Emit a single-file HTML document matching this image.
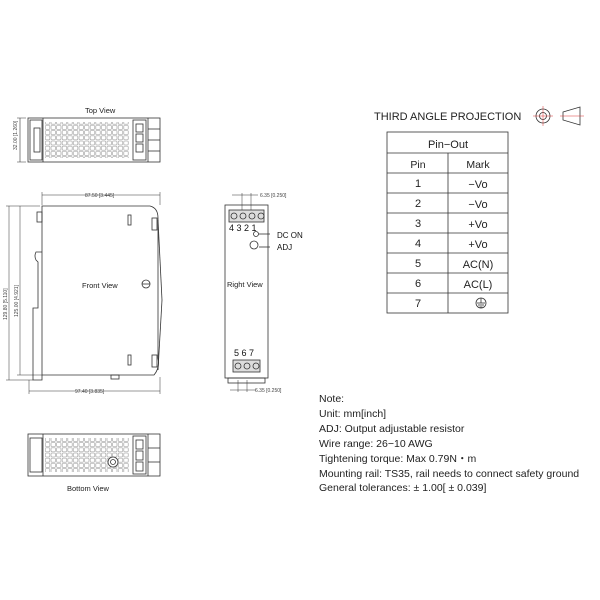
<!DOCTYPE html>
<html><head><meta charset="utf-8"><style>
html,body{margin:0;padding:0;background:#fff;}
svg{display:block;font-family:"Liberation Sans",sans-serif;}
</style></head><body>
<svg width="600" height="600" viewBox="0 0 600 600" xmlns="http://www.w3.org/2000/svg">
<defs>
<pattern id="g" width="5.6" height="5.2" patternUnits="userSpaceOnUse">
<rect x="0.6" y="0.6" width="4.4" height="4" rx="0.8" fill="none" stroke="#888" stroke-width="0.5"/>
</pattern>
</defs>
<g stroke="#333" fill="none" stroke-width="0.8">
<rect x="28" y="118" width="132" height="44"/>
<rect x="30" y="120" width="12" height="40"/>
<rect x="34" y="128" width="6" height="24"/>
<line x1="43" y1="118" x2="43" y2="162"/>
<rect x="45" y="122" width="84" height="36" fill="url(#g)" stroke="none"/>
<rect x="133" y="120" width="13" height="40"/>
<rect x="136" y="124" width="7" height="8"/><rect x="136" y="134" width="7" height="8"/><rect x="136" y="144" width="7" height="8"/>
<line x1="148" y1="118" x2="148" y2="162"/>
<line x1="148" y1="129" x2="160" y2="129"/><line x1="148" y1="140" x2="160" y2="140"/><line x1="148" y1="151" x2="160" y2="151"/>
<line x1="20" y1="118" x2="20" y2="162" stroke-width="0.6"/>
<line x1="17" y1="118" x2="26" y2="118" stroke-width="0.5"/><line x1="17" y1="162" x2="26" y2="162" stroke-width="0.5"/>
<path d="M42 206 L150 206 Q158 208 158 218 L158 358 Q160 368 154 375 L42 375 Z"/>
<line x1="158" y1="220" x2="162" y2="300"/><line x1="162" y1="300" x2="158" y2="370"/>
<rect x="37" y="212" width="5" height="10"/>
<rect x="152" y="218" width="5" height="12"/><rect x="152" y="355" width="5" height="12"/>
<rect x="128" y="215" width="3" height="10"/><rect x="128" y="355" width="3" height="10"/>
<circle cx="146" cy="284" r="4"/><line x1="142" y1="284" x2="150" y2="284"/>
<path d="M42 252 L36 252 Q34 256 36 260 L38 262 L38 308 L33 308 L33 380 L42 380 L42 375"/>
<rect x="111" y="375" width="8" height="4"/>
<line x1="42" y1="195" x2="160" y2="195" stroke-width="0.5"/>
<line x1="42" y1="192" x2="42" y2="205" stroke-width="0.5"/><line x1="160" y1="192" x2="160" y2="205" stroke-width="0.5"/>
<line x1="29" y1="391" x2="160" y2="391" stroke-width="0.5"/>
<line x1="29" y1="380" x2="29" y2="394" stroke-width="0.5"/><line x1="160" y1="377" x2="160" y2="394" stroke-width="0.5"/>
<line x1="9" y1="206" x2="9" y2="380" stroke-width="0.5"/>
<line x1="6" y1="206" x2="40" y2="206" stroke-width="0.5"/><line x1="6" y1="380" x2="33" y2="380" stroke-width="0.5"/>
<line x1="20" y1="206" x2="20" y2="375" stroke-width="0.5"/>
<line x1="17" y1="375" x2="42" y2="375" stroke-width="0.5"/>
<rect x="225" y="205" width="43" height="173"/>
<rect x="229" y="210" width="35" height="12" fill="#ddd"/>
<circle cx="234" cy="216" r="3"/><circle cx="243" cy="216" r="3"/><circle cx="252" cy="216" r="3"/><circle cx="261" cy="216" r="3"/>
<circle cx="256" cy="234" r="2.5"/><circle cx="254" cy="245" r="4"/>
<line x1="259" y1="234" x2="270" y2="234"/><line x1="259" y1="247" x2="270" y2="247"/>
<rect x="233" y="360" width="27" height="12" fill="#ddd"/>
<circle cx="238" cy="366" r="3"/><circle cx="247" cy="366" r="3"/><circle cx="256" cy="366" r="3"/>
<rect x="228" y="378" width="37" height="5"/>
<line x1="242" y1="193" x2="242" y2="210" stroke-width="0.5"/><line x1="251" y1="193" x2="251" y2="210" stroke-width="0.5"/>
<line x1="232" y1="195" x2="258" y2="195" stroke-width="0.5"/>
<line x1="238" y1="380" x2="238" y2="392" stroke-width="0.5"/><line x1="247" y1="380" x2="247" y2="392" stroke-width="0.5"/>
<line x1="230" y1="390" x2="256" y2="390" stroke-width="0.5"/>
<rect x="28" y="434" width="132" height="42"/>
<rect x="30" y="438" width="12" height="34"/>
<line x1="43" y1="434" x2="43" y2="476"/>
<rect x="45" y="438" width="84" height="34" fill="url(#g)" stroke="none"/>
<circle cx="113" cy="462" r="5" fill="#fff"/><circle cx="113" cy="462" r="2.5"/>
<rect x="133" y="436" width="13" height="38"/>
<rect x="136" y="440" width="7" height="9"/><rect x="136" y="451" width="7" height="9"/><rect x="136" y="462" width="7" height="9"/>
<line x1="148" y1="434" x2="148" y2="476"/>
<line x1="148" y1="448" x2="160" y2="448"/><line x1="148" y1="462" x2="160" y2="462"/>
<rect x="387" y="132" width="121" height="181"/>
<line x1="387" y1="153" x2="508" y2="153"/>
<line x1="387" y1="173" x2="508" y2="173"/><line x1="387" y1="193" x2="508" y2="193"/>
<line x1="387" y1="213" x2="508" y2="213"/><line x1="387" y1="233" x2="508" y2="233"/>
<line x1="387" y1="253" x2="508" y2="253"/><line x1="387" y1="273" x2="508" y2="273"/>
<line x1="387" y1="293" x2="508" y2="293"/>
<line x1="448" y1="153" x2="448" y2="313"/>
<circle cx="481" cy="303" r="5"/><line x1="481" y1="298" x2="481" y2="303"/>
<line x1="477" y1="303" x2="485" y2="303"/><line x1="478" y1="305" x2="484" y2="305"/><line x1="479.5" y1="307" x2="482.5" y2="307"/>
<circle cx="543" cy="116" r="7"/><circle cx="543" cy="116" r="3.5"/>
<path d="M563 112 L580 107 L580 125 L563 120 Z"/>
</g>
<g stroke="#d33" stroke-width="0.5"><line x1="533" y1="116" x2="553" y2="116"/><line x1="543" y1="106" x2="543" y2="126"/><line x1="560" y1="116" x2="584" y2="116"/></g>
<g fill="#222" font-size="7.5">
<text x="85" y="113">Top View</text>
<text x="82" y="288">Front View</text>
<text x="227" y="287">Right View</text>
<text x="67" y="491">Bottom View</text>
</g>
<g fill="#444" font-size="5">
<text x="85" y="197">87.50 [3.445]</text>
<text x="75" y="393">97.40 [3.835]</text>
<text x="260" y="197">6.35 [0.250]</text>
<text x="255" y="392">6.35 [0.250]</text>
<text transform="translate(17,150) rotate(-90)">32.00 [1.260]</text>
<text transform="translate(7,320) rotate(-90)">129.80 [5.110]</text>
<text transform="translate(18,317) rotate(-90)">125.00 [4.921]</text>
</g>
<g fill="#111" font-size="9">
<text x="229" y="231">4 3 2 1</text>
<text x="234" y="356">5 6 7</text>
<text x="277" y="238" font-size="8">DC ON</text>
<text x="277" y="250" font-size="8">ADJ</text>
</g>
<g fill="#222" font-size="11" text-anchor="middle">
<text x="448" y="148">Pin−Out</text>
<text x="418" y="168" font-size="10.5">Pin</text><text x="478" y="168" font-size="10.5">Mark</text>
<text x="418" y="187">1</text><text x="478" y="188">−Vo</text>
<text x="418" y="207">2</text><text x="478" y="208">−Vo</text>
<text x="418" y="227">3</text><text x="478" y="228">+Vo</text>
<text x="418" y="247">4</text><text x="478" y="248">+Vo</text>
<text x="418" y="267">5</text><text x="478" y="268">AC(N)</text>
<text x="418" y="287">6</text><text x="478" y="288">AC(L)</text>
<text x="418" y="307">7</text>
</g>
<text x="374" y="120" font-size="11" fill="#222">THIRD ANGLE PROJECTION</text>
<g fill="#222" font-size="10.5">
<text x="319" y="402">Note:</text>
<text x="319" y="417">Unit: mm[inch]</text>
<text x="319" y="432">ADJ: Output adjustable resistor</text>
<text x="319" y="447">Wire range: 26−10 AWG</text>
<text x="319" y="462">Tightening torque: Max 0.79N・m</text>
<text x="319" y="477">Mounting rail: TS35, rail needs to connect safety ground</text>
<text x="319" y="491">General tolerances: ± 1.00[ ± 0.039]</text>
</g>
</svg>
</body></html>
